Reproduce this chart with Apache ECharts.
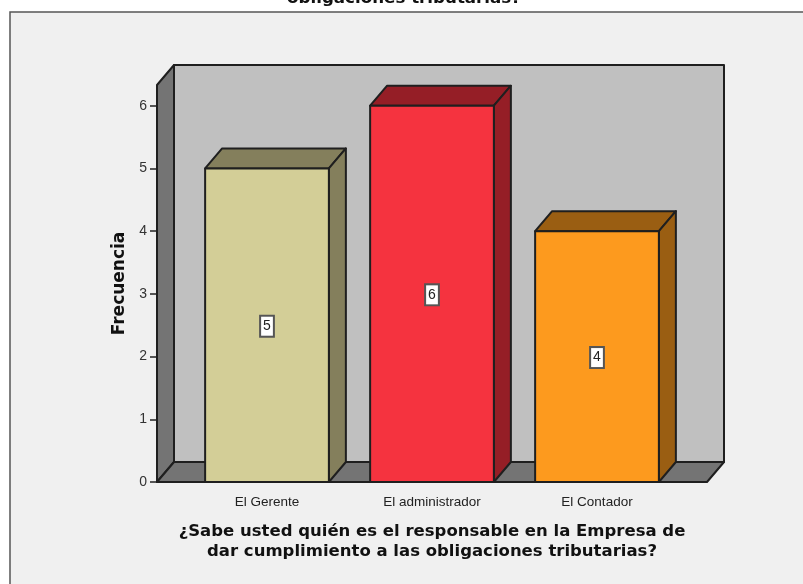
<!DOCTYPE html>
<html>
<head>
<meta charset="utf-8">
<style>html,body{margin:0;padding:0;background:#fff}#chart{width:803px;height:584px}</style>
<script src="https://cdn.jsdelivr.net/npm/echarts@6/dist/echarts.min.js"></script>
</head>
<body>
<div id="chart"></div>
<script>
// Responses to the survey question
const categories = ['El Gerente', 'El administrador', 'El Contador'];
const frequencies = [5, 6, 4];
const yTicks = [0, 1, 2, 3, 4, 5, 6];
const titleText = 'obligaciones tributarias?';
const xAxisTitle = '¿Sabe usted quién es el responsable en la Empresa de\ndar cumplimiento a las obligaciones tributarias?';
const yAxisTitle = 'Frecuencia';

// Face colours for each bar: front, then top and side
const frontColors = ['#d3ce97', '#f5333f', '#fd9a1e'];
const shadeColors = ['#847f5c', '#951e26', '#9a5e12'];

// Oblique projection of the box and the room behind it
const DEPTH_X = 17, DEPTH_Y = 20, WALL_INSET = 27.5;
const EDGE = '#1f1f1f';

function poly(points, fill, width) {
  return {
    type: 'polygon',
    shape: { points },
    style: { fill, stroke: EDGE, lineWidth: width, lineJoin: 'round' }
  };
}

function renderRoom(params, api) {
  const c = params.coordSys;
  const l = c.x - WALL_INSET, r = c.x + c.width + WALL_INSET;
  const t = c.y, b = c.y + c.height;
  return {
    type: 'group',
    children: [
      poly([[l + DEPTH_X, t - DEPTH_Y], [r + DEPTH_X, t - DEPTH_Y], [r + DEPTH_X, b - DEPTH_Y], [l + DEPTH_X, b - DEPTH_Y]], '#c0c0c0', 2),
      poly([[l, t], [l + DEPTH_X, t - DEPTH_Y], [l + DEPTH_X, b - DEPTH_Y], [l, b]], '#747474', 2),
      poly([[l, b], [l + DEPTH_X, b - DEPTH_Y], [r + DEPTH_X, b - DEPTH_Y], [r, b]], '#747474', 2)
    ]
  };
}

function renderBar(params, api) {
  const i = params.dataIndex;
  const top = api.coord([api.value(0), api.value(1)]);
  const base = api.coord([api.value(0), 0]);
  const half = api.size([1, 0])[0] * 0.75 / 2;
  const l = top[0] - half, r = top[0] + half;
  const t = top[1], b = base[1];
  return {
    type: 'group',
    children: [
      poly([[l, t], [l + DEPTH_X, t - DEPTH_Y], [r + DEPTH_X, t - DEPTH_Y], [r, t]], shadeColors[i], 2),
      poly([[r, t], [r + DEPTH_X, t - DEPTH_Y], [r + DEPTH_X, b - DEPTH_Y], [r, b]], shadeColors[i], 2),
      poly([[l, t], [r, t], [r, b], [l, b]], frontColors[i], 2),
      {
        type: 'text',
        x: top[0],
        y: (t + b) / 2 + 1,
        style: {
          text: String(api.value(1)),
          fill: '#222',
          font: '14px "Liberation Sans", Arial, sans-serif',
          align: 'center',
          verticalAlign: 'middle',
          backgroundColor: '#fff',
          borderColor: '#555',
          borderWidth: 2,
          padding: [3, 2, 2, 2]
        }
      }
    ]
  };
}

const chart = echarts.init(document.getElementById('chart'), null, { renderer: 'canvas' });
chart.setOption({
  animation: false,
  backgroundColor: '#fff',
  graphic: [{
    type: 'rect',
    z: -10,
    shape: { x: 10, y: 12, width: 820, height: 600 },
    style: { fill: '#f0f0f0', stroke: '#555', lineWidth: 1.5 }
  }],
  title: {
    text: titleText,
    left: 404,
    textAlign: 'center',
    top: -10,
    padding: 0,
    textStyle: { fontFamily: '"DejaVu Sans", sans-serif', fontWeight: 'bold', fontSize: 16.7, color: '#111' }
  },
  grid: { left: 184.5, width: 495, top: 85, height: 397, containLabel: false },
  xAxis: {
    type: 'category',
    data: categories,
    axisLine: { show: false },
    axisTick: { alignWithLabel: true, length: 9, lineStyle: { color: '#333', width: 1.5 } },
    axisLabel: { margin: 13, color: '#222', fontFamily: '"Liberation Sans", Arial, sans-serif', fontSize: 13.5 },
    name: xAxisTitle,
    nameLocation: 'middle',
    nameGap: 40,
    nameTextStyle: { fontFamily: '"DejaVu Sans", sans-serif', fontWeight: 'bold', fontSize: 16.5, color: '#111', lineHeight: 20 }
  },
  yAxis: {
    type: 'value',
    min: 0,
    max: 6.33,
    offset: 27.5,
    splitLine: { show: false },
    axisLine: { show: false },
    axisTick: { show: true, length: 7, customValues: yTicks, lineStyle: { color: '#222', width: 1.5 } },
    axisLabel: { margin: 10, padding: [5, 0, 0, 0], customValues: yTicks, color: '#333', fontFamily: '"Liberation Sans", Arial, sans-serif', fontSize: 14 },
    name: yAxisTitle,
    nameLocation: 'middle',
    nameGap: 29,
    nameTextStyle: { fontFamily: '"DejaVu Sans", sans-serif', fontWeight: 'bold', fontSize: 17, color: '#111' }
  },
  series: [
    { type: 'custom', z: 1, silent: true, renderItem: renderRoom, data: [0] },
    {
      type: 'custom',
      z: 2,
      silent: true,
      renderItem: renderBar,
      encode: { x: 0, y: 1 },
      data: categories.map((c, i) => [i, frequencies[i]])
    }
  ]
});
</script>
</body>
</html>
